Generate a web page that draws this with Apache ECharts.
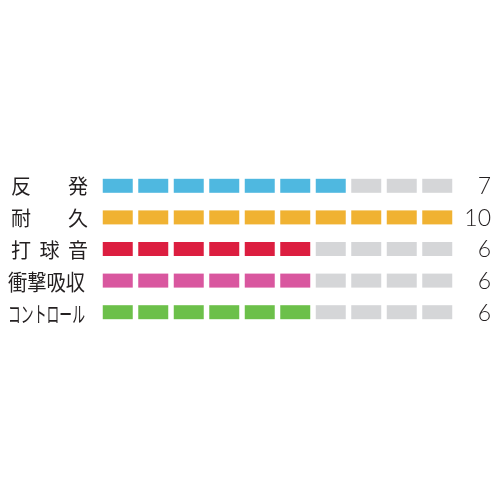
<!DOCTYPE html>
<html>
<head>
<meta charset="utf-8">
<script src="https://cdn.jsdelivr.net/npm/echarts@6/dist/echarts.min.js"></script>
<style>
html,body{margin:0;padding:0;background:#fff;}
#chart{width:500px;height:500px;}
</style>
</head>
<body>
<div id="chart"></div>
<script>
const categories = ['反発', '耐久', '打球音', '衝撃吸収', 'コントロール'];
const scores = [7, 10, 6, 6, 6];
const maxScore = 10;
const rowColors = ['#4fb8e0', '#f0b232', '#dc1e40', '#d9579f', '#6cc04a'];
const emptyColor = '#d5d6d8';
const segments = Array.from({length: maxScore}, (_, i) => String(i));

const segData = [];
categories.forEach((c, r) => {
  for (let i = 0; i < maxScore; i++) segData.push([i, r, i < scores[r] ? 1 : 0]);
});

const chart = echarts.init(document.getElementById('chart'), null, {renderer: 'canvas'});
const textColor = '#231f20';
const cjkFont = '"Noto Sans CJK JP", sans-serif';

chart.setOption({
  animation: false,
  backgroundColor: '#ffffff',
  grid: {left: 100, right: 45, top: 170, bottom: 172},
  xAxis: {type: 'category', data: segments, show: false},
  yAxis: {type: 'category', data: categories, inverse: true, show: false},
  series: [
    {
      type: 'custom',
      data: segData,
      renderItem: function (params, api) {
        const c = api.coord([api.value(0), api.value(1)]);
        const s = api.size([1, 1]);
        const w = s[0] * 0.845, h = 14;
        const r = api.value(1);
        return {
          type: 'rect',
          shape: {x: c[0] - w / 2, y: c[1] - h / 2, width: w, height: h},
          style: {fill: api.value(2) ? rowColors[r] : emptyColor}
        };
      }
    },
    {
      type: 'custom',
      data: categories.map((c, r) => [0, r]),
      renderItem: function (params, api) {
        const r = api.value(1);
        const c = api.coord([0, r]);
        const cs = params.coordSys;
        const chars = Array.from(categories[r]);
        const fs = 20, L = cs.x - 89, W = 77, n = chars.length;
        const children = [];
        if (n * fs <= W) {
          const step = n > 1 ? (W - fs) / (n - 1) : 0;
          chars.forEach((ch, k) => children.push({
            type: 'text', x: L + k * step, y: c[1] + 1,
            style: {text: ch, font: '400 ' + fs + 'px ' + cjkFont, fill: textColor, textAlign: 'left', textVerticalAlign: 'middle'}
          }));
        } else {
          const big = fs + 2;
          const sc = W / (n * big);
          chars.forEach((ch, k) => children.push({
            type: 'text', x: L - 3 + k * big * sc, y: c[1] + 1, scaleX: sc,
            style: {text: ch, font: '400 ' + big + 'px ' + cjkFont, fill: textColor, textAlign: 'left', textVerticalAlign: 'middle'}
          }));
        }
        return {type: 'group', children: children};
      }
    },
    {
      type: 'custom',
      data: categories.map((c, r) => [maxScore - 1, r]),
      renderItem: function (params, api) {
        const r = api.value(1);
        const c = api.coord([0, r]);
        const cs = params.coordSys;
        return {
          type: 'text', x: cs.x + cs.width + 36, y: c[1] + 1,
          style: {text: String(scores[r]), font: '300 23px Lato, "Open Sans", sans-serif', fill: textColor, textAlign: 'right', textVerticalAlign: 'middle'}
        };
      }
    }
  ]
});
</script>
</body>
</html>
